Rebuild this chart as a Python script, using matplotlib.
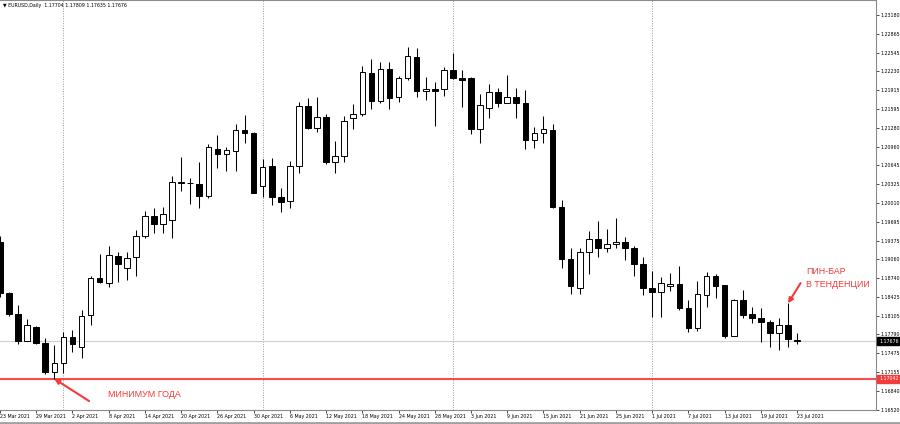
import matplotlib

matplotlib.use("Agg")
import matplotlib.pyplot as plt  # noqa: E402
import matplotlib.transforms as mtransforms  # noqa: E402
import numpy as np  # noqa: E402
import pandas as pd  # noqa: E402

# EURUSD daily, 23 Mar 2021 .. 23 Jul 2021 (prices)
dates = pd.bdate_range("2021-03-23", "2021-07-23")

opens = [
    1.1935, 1.18490, 1.18131, 1.17685, 1.17922, 1.17642, 1.17162, 1.17303, 1.17752, 1.17573,
    1.18118, 1.18737, 1.18663, 1.19119, 1.18906, 1.19092, 1.19456, 1.19789, 1.19649, 1.19722,
    1.20368, 1.20341, 1.20329, 1.20132, 1.20914, 1.20830, 1.20890, 1.21235, 1.21184, 1.20300,
    1.20633, 1.20115, 1.20042, 1.20638, 1.21645, 1.21269, 1.21459, 1.20695, 1.20796, 1.21437,
    1.21510, 1.22207, 1.21729, 1.22264, 1.21792, 1.22112, 1.22477, 1.21903, 1.21932, 1.21927,
    1.22252, 1.22117, 1.22110, 1.21252, 1.21606, 1.21876, 1.21700, 1.21792, 1.21700, 1.21066,
    1.21184, 1.21246, 1.19936, 1.19064, 1.18569, 1.19177, 1.19396, 1.19244, 1.19312, 1.19345,
    1.19254, 1.18974, 1.18580, 1.18502, 1.18613, 1.18636, 1.18242, 1.17905, 1.18456, 1.18776,
    1.18624, 1.17765, 1.18372, 1.18130, 1.18063, 1.18005, 1.17820, 1.17950, 1.17704,
]
highs = [
    1.1945, 1.18512, 1.18283, 1.18046, 1.17934, 1.17738, 1.17612, 1.17837, 1.17865, 1.18203,
    1.18782, 1.19148, 1.19283, 1.19190, 1.19190, 1.19552, 1.19873, 1.19919, 1.19946, 1.20469,
    1.20790, 1.20425, 1.20705, 1.20999, 1.21156, 1.20958, 1.21336, 1.21493, 1.21211, 1.20751,
    1.20762, 1.20256, 1.20717, 1.21717, 1.21785, 1.21802, 1.21505, 1.21054, 1.21476, 1.21679,
    1.22320, 1.22438, 1.22382, 1.22392, 1.22156, 1.22645, 1.22618, 1.22139, 1.22045, 1.22308,
    1.22534, 1.22252, 1.22129, 1.21842, 1.22011, 1.21943, 1.22168, 1.21943, 1.21915, 1.21296,
    1.21476, 1.21336, 1.20059, 1.19244, 1.19244, 1.19536, 1.19705, 1.19570, 1.19750, 1.19440,
    1.19288, 1.19103, 1.18861, 1.18765, 1.18822, 1.18951, 1.18372, 1.18693, 1.18839, 1.18805,
    1.18624, 1.18385, 1.18541, 1.18259, 1.18242, 1.18034, 1.18063, 1.18316, 1.17809,
]
lows = [
    1.1843, 1.18102, 1.17625, 1.17680, 1.17630, 1.17123, 1.17042, 1.17140, 1.17499, 1.17388,
    1.17950, 1.18653, 1.18597, 1.18670, 1.18709, 1.18776, 1.19413, 1.19497, 1.19497, 1.19423,
    1.20216, 1.19987, 1.19929, 1.20088, 1.20604, 1.20548, 1.20553, 1.21016, 1.20172, 1.20105,
    1.19975, 1.19862, 1.19919, 1.20520, 1.21252, 1.21211, 1.20661, 1.20510, 1.20695, 1.21257,
    1.21481, 1.21594, 1.21690, 1.21594, 1.21717, 1.22083, 1.21802, 1.21746, 1.21313, 1.21819,
    1.22100, 1.21633, 1.21167, 1.21026, 1.21437, 1.21633, 1.21690, 1.21437, 1.20919, 1.20931,
    1.21016, 1.19920, 1.18917, 1.18468, 1.18468, 1.18806, 1.19103, 1.19177, 1.19254, 1.19047,
    1.18777, 1.18456, 1.18090, 1.18090, 1.18524, 1.18203, 1.17827, 1.17849, 1.18259, 1.18401,
    1.17725, 1.17760, 1.18063, 1.17979, 1.17669, 1.17584, 1.17529, 1.17584, 1.17635,
]
closes = [
    1.1849, 1.18131, 1.17685, 1.17950, 1.17642, 1.17162, 1.17303, 1.17752, 1.17624, 1.18107,
    1.18737, 1.18670, 1.19131, 1.18974, 1.19085, 1.19456, 1.19789, 1.19649, 1.19817, 1.20368,
    1.20341, 1.20350, 1.20132, 1.20948, 1.20830, 1.20898, 1.21235, 1.21189, 1.20182, 1.20621,
    1.20115, 1.20030, 1.20633, 1.21650, 1.21269, 1.21459, 1.20695, 1.20796, 1.21392, 1.21505,
    1.22213, 1.21734, 1.22264, 1.21785, 1.22122, 1.22488, 1.21898, 1.21932, 1.21903, 1.22252,
    1.22112, 1.22088, 1.21252, 1.21662, 1.21876, 1.21700, 1.21792, 1.21700, 1.21066, 1.21184,
    1.21252, 1.19936, 1.19064, 1.18608, 1.19177, 1.19396, 1.19244, 1.19312, 1.19356, 1.19254,
    1.18974, 1.18580, 1.18502, 1.18654, 1.18642, 1.18242, 1.17905, 1.18468, 1.18782, 1.18608,
    1.17765, 1.18372, 1.18119, 1.18063, 1.17996, 1.17810, 1.17950, 1.17706, 1.17676,
]

price_ticks = [
    "1.23180", "1.22865", "1.22545", "1.22230", "1.21915", "1.21595", "1.21280", "1.20960",
    "1.20645", "1.20325", "1.20010", "1.19695", "1.19375", "1.19060", "1.18740", "1.18425",
    "1.18105", "1.17790", "1.17475", "1.17155", "1.16840", "1.16520",
]
bid = 1.17676
year_low = 1.17042
header = "\u25bc EURUSD,Daily  1.17704 1.17809 1.17635 1.17676"

RED = "#f43a3a"
FS = 3.4

o = np.array(opens)
h = np.array(highs)
l = np.array(lows)
c = np.array(closes)
x = np.arange(len(dates))
up = c >= o

fig = plt.figure(figsize=(9, 4.24), dpi=100)
ax = fig.add_axes([0, 14 / 424, 876 / 900, 410 / 424])
ax.set_xlim(0.088, 96.71)
ax.set_ylim(1.16516, 1.23433)

# month separators
for k in range(1, len(dates)):
    if dates[k].month != dates[k - 1].month:
        ax.axvline(k, color="#9a9a9a", ls=(0, (1, 1.5)), lw=0.7, zorder=1)

ax.axhline(bid, color="#cfcfcf", lw=0.8, zorder=1)
ax.axhline(year_low, color=RED, lw=1.5, alpha=0.9, zorder=1)

ax.vlines(x, l, h, color="black", lw=0.75, zorder=2)
ax.bar(x, np.abs(c - o), bottom=np.minimum(o, c), width=0.62,
       color=np.where(up, "white", "black"), edgecolor="black", linewidth=0.7, zorder=3)

# axes styling (MetaTrader look)
for side in ("left",):
    ax.spines[side].set_visible(False)
for side in ("right", "bottom", "top"):
    ax.spines[side].set_color("#8a8a8a")
    ax.spines[side].set_linewidth(0.8)

ax.yaxis.tick_right()
ax.set_yticks([float(t) for t in price_ticks])
ax.set_yticklabels(price_ticks)
ax.tick_params(axis="y", direction="out", length=2, width=0.5, pad=1.2,
               labelsize=FS, colors="black")

xt = x[::4]
ax.set_xticks(xt)
ax.set_xticklabels([f"{d.day} {d:%b %Y}" for d in dates[xt]], ha="left")
ax.tick_params(axis="x", direction="out", length=2, width=0.5, pad=1,
               labelsize=FS, colors="black")

# price boxes on the scale
trans = mtransforms.blended_transform_factory(ax.transAxes, ax.transData)
ax.text(1.0035, bid, f"{bid:.5f}", transform=trans, ha="left", va="center",
        fontsize=FS, color="white", clip_on=False, zorder=5,
        bbox=dict(boxstyle="square,pad=0.35", fc="black", ec="black"))
ax.text(1.0035, year_low, f"{year_low:.5f}", transform=trans, ha="left", va="center",
        fontsize=FS, color="white", clip_on=False, zorder=5,
        bbox=dict(boxstyle="square,pad=0.35", fc=RED, ec=RED))

# annotations
i_low = int(np.argmin(l))
ax.annotate("", xy=(i_low, l[i_low]), xytext=(25, -16), textcoords="offset points",
            arrowprops=dict(arrowstyle="-|>", color=RED, lw=1.5, mutation_scale=7,
                            shrinkA=0, shrinkB=0), annotation_clip=False)
ax.annotate("МИНИМУМ ГОДА", xy=(i_low, l[i_low]), xytext=(38.5, -11.5),
            textcoords="offset points", ha="left", va="center", color=RED,
            fontsize=6.4, family="Liberation Sans", annotation_clip=False)

i_pin = len(dates) - 2
ax.annotate("", xy=(i_pin, h[i_pin]), xytext=(9, 14.5), textcoords="offset points",
            arrowprops=dict(arrowstyle="-|>", color=RED, lw=1.5, mutation_scale=7,
                            shrinkA=0, shrinkB=0), annotation_clip=False)
ax.annotate("ПИН-БАР\nВ ТЕНДЕНЦИИ", xy=(i_pin, h[i_pin]), xytext=(13, 18.5),
            textcoords="offset points", ha="left", va="center", color=RED,
            fontsize=6.4, family="Liberation Sans", linespacing=1.55,
            annotation_clip=False)

fig.text(3 / 900, 1 - 6 / 424, header, fontsize=FS, ha="left", va="center")

# window border below the time scale
fig.add_artist(plt.Line2D([0, 1], [1.5 / 424, 1.5 / 424], color="#a0a0a0", lw=2))

fig.savefig("out.png", dpi=100)
